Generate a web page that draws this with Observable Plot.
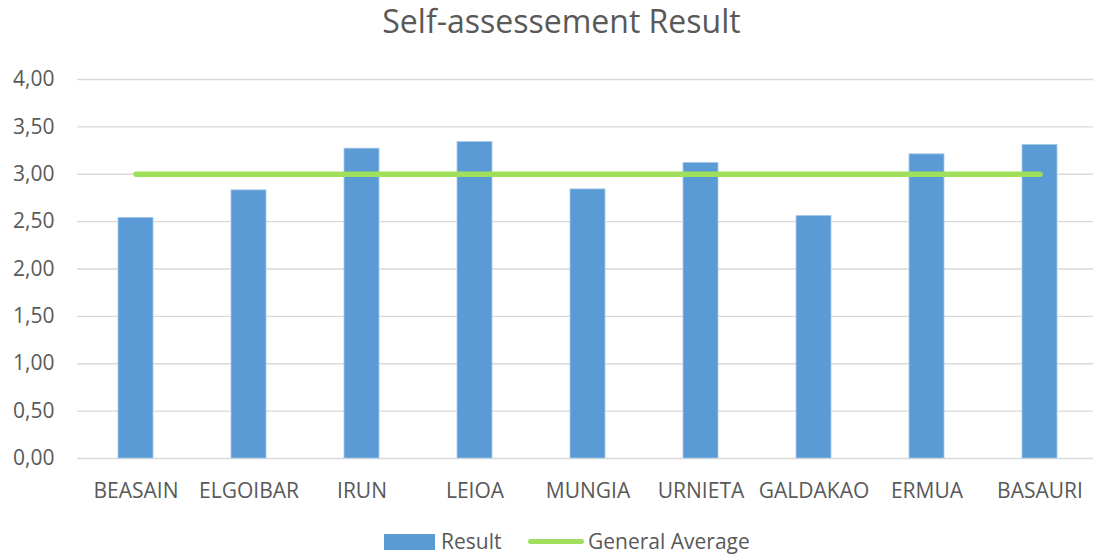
<!DOCTYPE html>
<html>
<head>
<meta charset="utf-8">
<script src="https://cdn.jsdelivr.net/npm/d3@7"></script>
<script src="https://cdn.jsdelivr.net/npm/@observablehq/plot@0.6"></script>
<style>
  html, body { margin: 0; padding: 0; background: #fff; overflow: hidden; }
  #wrap { width: 1093px; height: 558px; position: relative; overflow: hidden; font-family: "Open Sans", sans-serif; color: #595959; }
  #title { position: relative; height: 50px; }
  #title span { position: absolute; left: 561.5px; top: 5px; transform: translateX(-50%); font-size: 32px; line-height: 32px; white-space: nowrap; }
  #chart svg { display: block; max-width: none !important; }
  #legend { position: relative; height: 38px; }
  #legend .sw { position: absolute; }
  #legend .lb { position: absolute; font-size: 21px; line-height: 21px; white-space: nowrap; top: 11px; }
</style>
</head>
<body>
<div id="wrap">
  <div id="title"><span>Self-assessement Result</span></div>
  <div id="chart"></div>
  <div id="legend"></div>
</div>
<script>
const categories = ["BEASAIN", "ELGOIBAR", "IRUN", "LEIOA", "MUNGIA", "URNIETA", "GALDAKAO", "ERMUA", "BASAURI"];
const results = [2.54, 2.83, 3.27, 3.34, 2.84, 3.12, 2.56, 3.21, 3.31];
const generalAverage = [3.00, 3.00, 3.00, 3.00, 3.00, 3.00, 3.00, 3.00, 3.00];
const yTicks = [0, 0.5, 1, 1.5, 2, 2.5, 3, 3.5, 4];
const seriesNames = ["Result", "General Average"];
const barColor = "#5B9BD5";
const lineColor = "#9FDF5C";

const barData = categories.map((c, i) => ({cat: c, value: results[i]}));
const lineData = categories.map((c, i) => ({cat: c, value: generalAverage[i]}));
const fmt = d => d3.format(".2f")(d).replace(".", ",");

const chart = Plot.plot({
  width: 1099,
  height: 470,
  marginLeft: 77,
  marginRight: 0,
  marginTop: 29,
  marginBottom: 62,
  style: {fontFamily: "Open Sans", fontSize: "21px", color: "#595959", background: "white", overflow: "visible", maxWidth: "none"},
  x: {domain: categories, paddingInner: 0.69, paddingOuter: 0.345, label: null},
  y: {domain: [0, 4], label: null},
  marks: [
    Plot.ruleY(yTicks, {stroke: "#d9d9d9", strokeWidth: 1.4}),
    Plot.barY(barData, {x: "cat", y: "value", fill: barColor, stroke: "#a8c9ea", strokeWidth: 0.8}),
    Plot.line(lineData, {x: "cat", y: "value", stroke: lineColor, strokeWidth: 5.5, strokeLinecap: "round"}),
    Plot.axisX({tickSize: 0, tickPadding: 25, fontSize: 21, label: null}),
    Plot.axisY({ticks: yTicks, tickSize: 0, tickPadding: 23, fontSize: 21, tickFormat: fmt, label: null})
  ]
});
document.getElementById("chart").appendChild(chart);

const legend = document.getElementById("legend");
const sw1 = document.createElement("div");
sw1.className = "sw";
Object.assign(sw1.style, {left: "384px", top: "14px", width: "51px", height: "16px", background: barColor});
legend.appendChild(sw1);
const lb1 = document.createElement("div");
lb1.className = "lb"; lb1.style.left = "441px"; lb1.style.top = "11px"; lb1.textContent = seriesNames[0];
legend.appendChild(lb1);
const sw2 = document.createElement("div");
sw2.className = "sw";
Object.assign(sw2.style, {left: "528px", top: "19px", width: "56px", height: "5px", background: lineColor, borderRadius: "3px"});
legend.appendChild(sw2);
const lb2 = document.createElement("div");
lb2.className = "lb"; lb2.style.left = "588px"; lb2.style.top = "11px"; lb2.textContent = seriesNames[1];
legend.appendChild(lb2);
</script>
</body>
</html>
